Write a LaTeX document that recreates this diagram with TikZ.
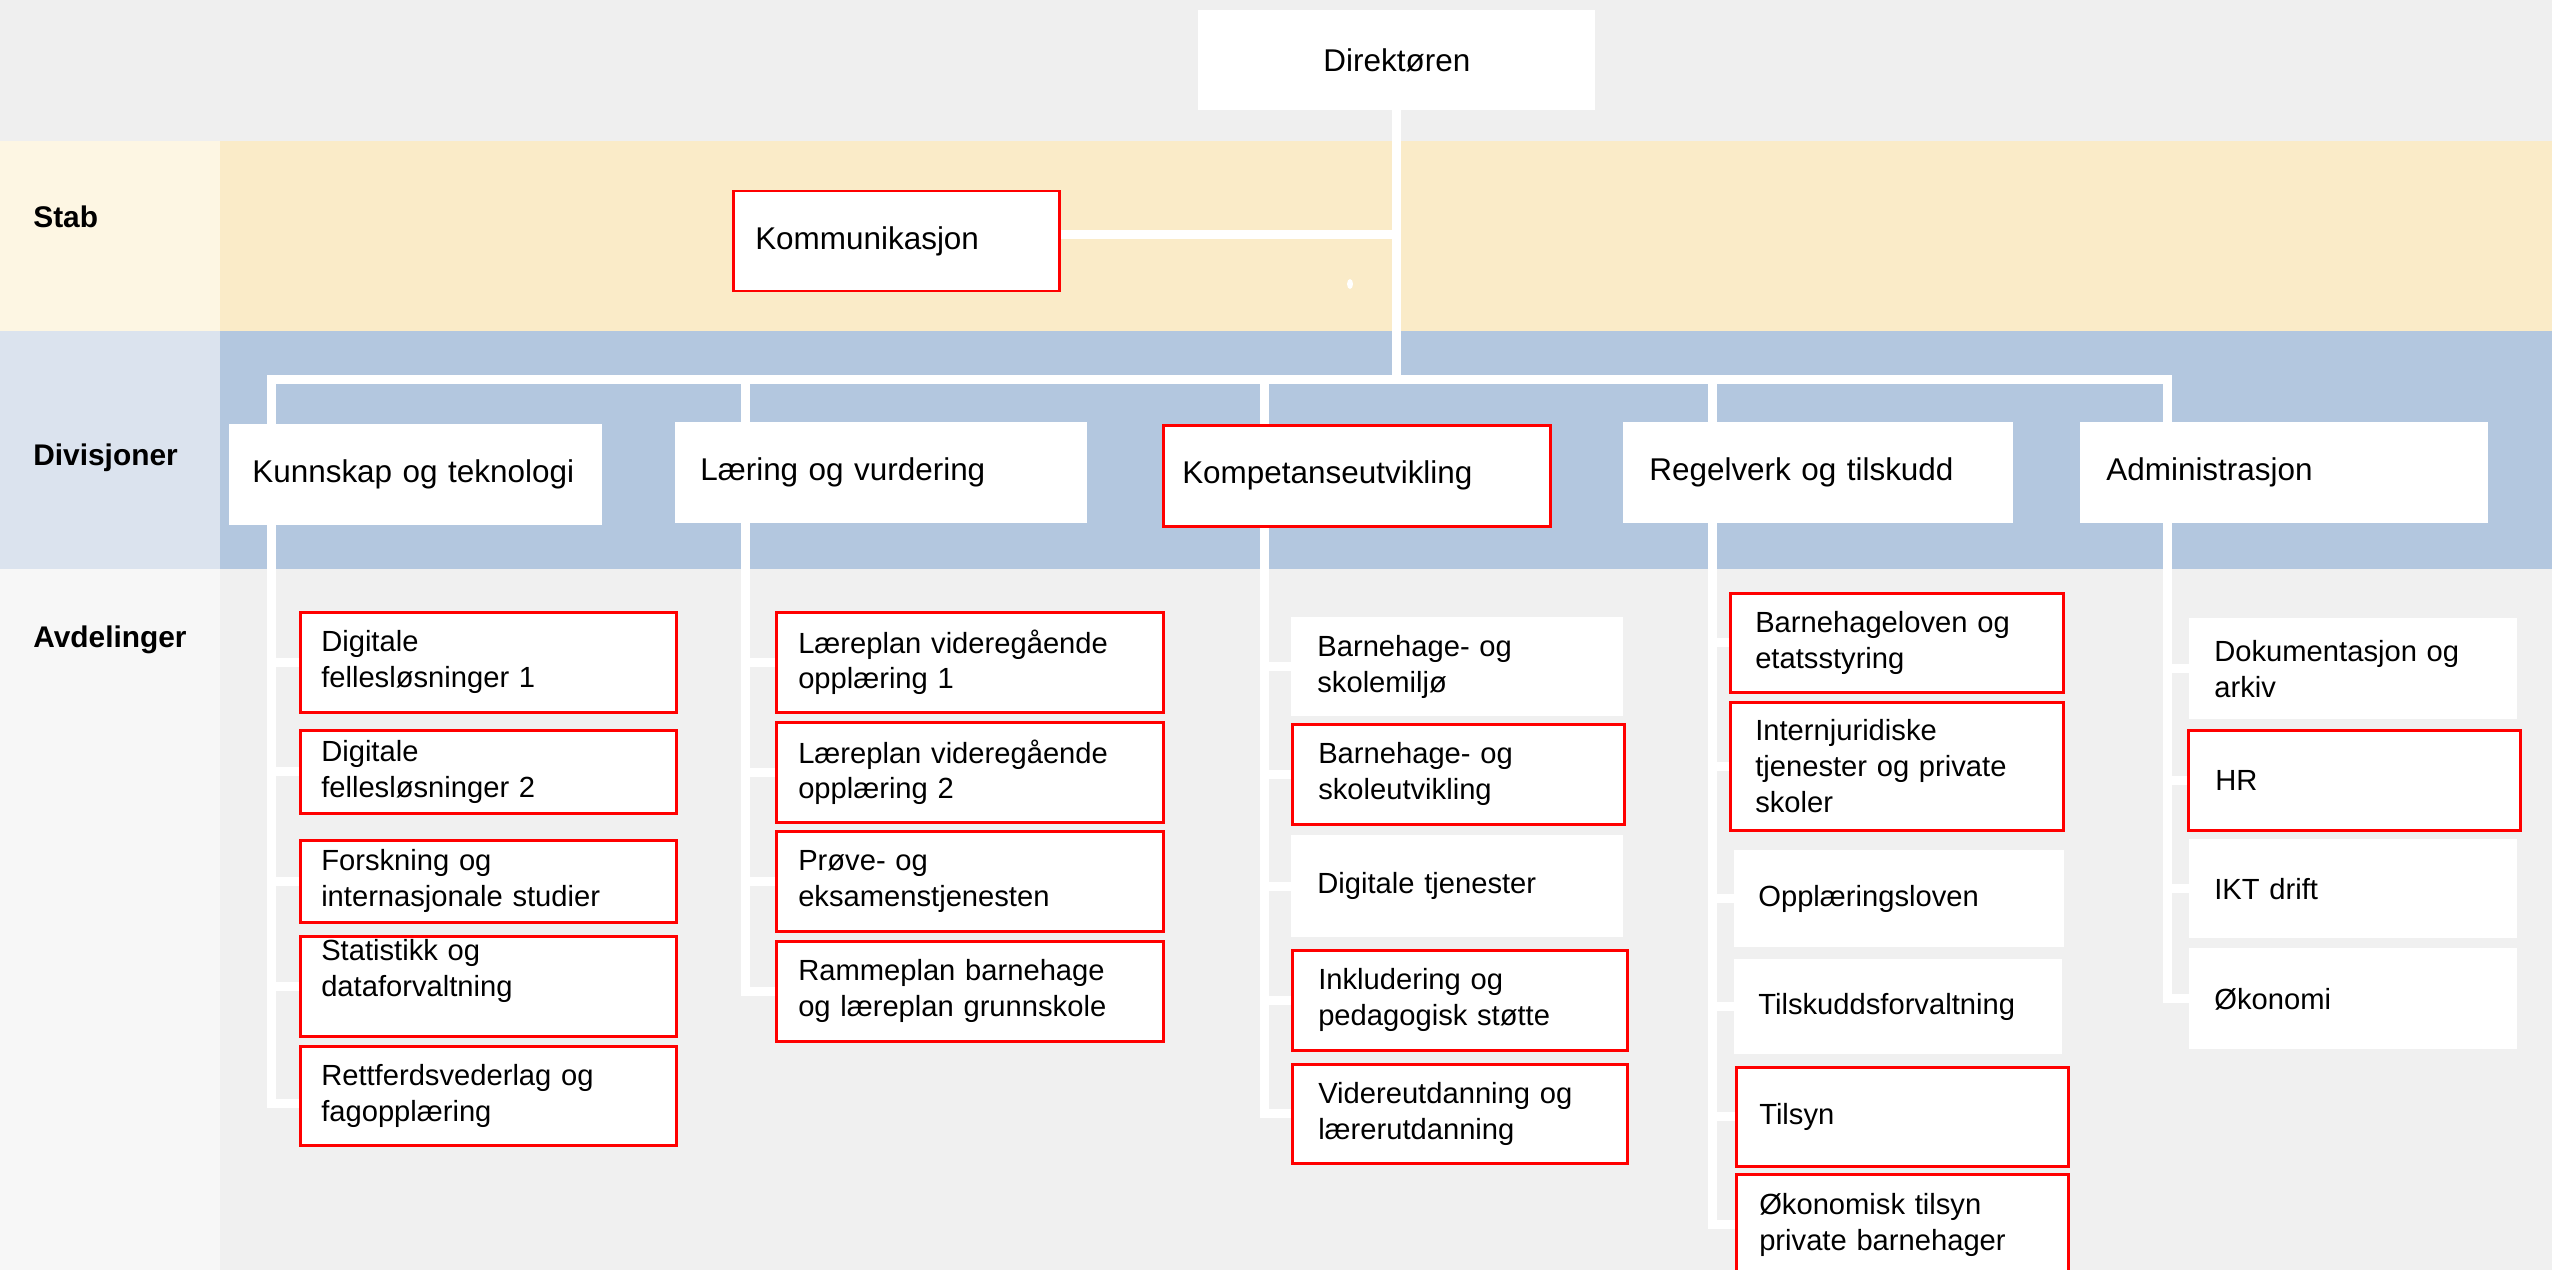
\documentclass[tikz,border=0pt]{standalone}
\usepackage{fontspec}
\setmainfont{Liberation Sans}
\newlength\pu
\setlength\pu{0.02cm}
\definecolor{cTop}{HTML}{EFEFEF}
\definecolor{cStabL}{HTML}{FDF6E3}
\definecolor{cStab}{HTML}{FAEBC8}
\definecolor{cDivL}{HTML}{DBE3EE}
\definecolor{cDiv}{HTML}{B3C7DF}
\definecolor{cAvdL}{HTML}{F7F7F7}
\definecolor{cAvd}{HTML}{F0F0F0}
\definecolor{cRed}{HTML}{FF0000}
\pgfdeclarelayer{bg}
\pgfdeclarelayer{wires}
\pgfsetlayers{bg,wires,main}
\tikzset{
  orgbox/.style={rectangle, fill=white, inner ysep=0pt, align=left, anchor=north west,
    font=\fontsize{16.6}{20.4}\selectfont},
  redbox/.style={draw=cRed, line width=2.5\pu},
  divfont/.style={font=\fontsize{17.9}{21.5}\selectfont},
  wire/.style={draw=white, line width=9\pu, line cap=rect},
  lab/.style={font=\fontsize{17}{20}\selectfont\bfseries, anchor=base west, inner sep=0pt},
}
\newcommand\obox[8][]{%
  \pgfmathsetmacro\obtw{#5-2*#7}%
  \node[orgbox, #1, minimum width=#5\pu, minimum height=#6\pu, inner xsep=#7\pu,
        text width=\obtw\pu] (#2) at (#3,#4) {#8};}
\begin{document}
\begin{tikzpicture}[x=0.02cm, y=-0.02cm]
\useasboundingbox (0,0) rectangle (2552,1270);
% bands
\begin{pgfonlayer}{bg}
  \fill[cTop] (0,0) rectangle (2552,141);
  \fill[cStabL] (0,141) rectangle (220,331);
  \fill[cStab] (220,141) rectangle (2552,331);
  \fill[cDivL] (0,331) rectangle (220,569);
  \fill[cDiv] (220,331) rectangle (2552,569);
  \fill[cAvdL] (0,569) rectangle (220,1270);
  \fill[cAvd] (220,569) rectangle (2552,1270);
\end{pgfonlayer}
% row labels
\node[lab] (labStab) at (33,228) {Stab};
\node[lab] (labDiv) at (33,465) {Divisjoner};
\node[lab] (labAvd) at (33,647) {Avdelinger};
% top
\obox[divfont, align=center]{dir}{1198}{10}{397}{100}{20}{Direktøren}
\obox[divfont, redbox]{kom}{732}{190}{326}{100}{22}{Kommunikasjon}
\fill[white] (1350,284) ellipse (3 and 5);
% divisions
\obox[divfont]{kunn}{229}{424}{373}{101}{23}{Kunnskap og teknologi}
\obox[divfont]{laer}{675}{422}{412}{101}{25}{Læring og vurdering}
\obox[divfont, redbox]{komp}{1162}{424}{387}{101}{19}{Kompetanseutvikling}
\obox[divfont]{regel}{1623}{422}{390}{101}{26}{Regelverk og tilskudd}
\obox[divfont]{adm}{2080}{422}{408}{101}{26}{Administrasjon}
% Kunnskap og teknologi
\obox[redbox]{k1}{299}{611}{376}{100}{21}{Digitale\\fellesløsninger 1}
\obox[redbox]{k2}{299}{729}{376}{83}{21}{Digitale\\fellesløsninger 2}
\obox[redbox]{k3}{299}{839}{376}{82}{21}{Forskning og\\internasjonale studier}
\obox[redbox]{k4}{299}{935}{376}{100}{21}{Statistikk og\\dataforvaltning\\\mbox{}}
\obox[redbox]{k5}{299}{1045}{376}{99}{21}{Rettferdsvederlag og\\fagopplæring}
% Læring og vurdering
\obox[redbox]{l1}{775}{611}{387}{100}{22}{Læreplan videregående\\opplæring 1}
\obox[redbox]{l2}{775}{721}{387}{100}{22}{Læreplan videregående\\opplæring 2}
\obox[redbox]{l3}{775}{830}{387}{100}{22}{Prøve- og\\eksamenstjenesten}
\obox[redbox]{l4}{775}{940}{387}{100}{22}{Rammeplan barnehage\\og læreplan grunnskole}
% Kompetanseutvikling
\obox{c1}{1291}{617}{332}{99}{26}{Barnehage- og\\skolemiljø}
\obox[redbox]{c2}{1291}{723}{332}{100}{26}{Barnehage- og\\skoleutvikling}
\obox{c3}{1291}{835}{332}{102}{26}{Digitale tjenester}
\obox[redbox]{c4}{1291}{949}{335}{100}{26}{Inkludering og\\pedagogisk støtte}
\obox[redbox]{c5}{1291}{1063}{335}{99}{26}{Videreutdanning og\\lærerutdanning}
% Regelverk og tilskudd
\obox[redbox]{r1}{1729}{592}{333}{99}{25}{Barnehageloven og\\etatsstyring}
\obox[redbox]{r2}{1729}{701}{333}{128}{25}{Internjuridiske\\tjenester og private\\skoler}
\obox{r3}{1734}{850}{330}{97}{24}{Opplæringsloven}
\obox{r4}{1734}{959}{328}{95}{24}{Tilskuddsforvaltning}
\obox[redbox]{r5}{1735}{1066}{332}{99}{23}{Tilsyn}
\obox[redbox]{r6}{1735}{1173}{332}{101}{23}{Økonomisk tilsyn\\private barnehager}
% Administrasjon
\obox{a1}{2189}{618}{328}{101}{25}{Dokumentasjon og\\arkiv}
\obox[redbox]{a2}{2187}{729}{332}{100}{27}{HR}
\obox{a3}{2189}{839}{328}{99}{25}{IKT drift}
\obox{a4}{2189}{948}{328}{101}{25}{Økonomi}
% connectors
\begin{pgfonlayer}{wires}
  \coordinate (bK) at (271,380);
  \coordinate (bL) at (745,380);
  \coordinate (bC) at (1264,380);
  \coordinate (bR) at (1712,380);
  \coordinate (bA) at (2167,380);
  \draw[wire] (dir.south) -- (dir.south |- bK);
  \draw[wire] ([yshift=7\pu]kom.east) -- ([yshift=7\pu]kom.east -| dir.south);
  \draw[wire, line join=miter] (bK |- kunn.north) -- (bK) -- (bA) -- (bA |- adm.north);
  \draw[wire] (bL) -- (bL |- laer.north);
  \draw[wire] (bC) -- (bC |- komp.north);
  \draw[wire] (bR) -- (bR |- regel.north);
  \draw[wire] (bK |- kunn.south) -- ([yshift=-8\pu]bK |- k5.west);
  \draw[wire] (bL |- laer.south) -- (bL |- l4.west);
  \draw[wire] (bC |- komp.south) -- (bC |- c5.west);
  \draw[wire] (bR |- regel.south) -- (bR |- r6.west);
  \draw[wire] (bA |- adm.south) -- (bA |- a4.west);
  \foreach \n in {k1,k2,k3,k4} \draw[wire] (bK |- \n.west) -- (\n.west);
  \draw[wire] ([yshift=-8\pu]bK |- k5.west) -- ([yshift=-8\pu]k5.west);
  \foreach \n in {l1,l2,l3,l4} \draw[wire] (bL |- \n.west) -- (\n.west);
  \foreach \n in {c1,c2,c3,c4,c5} \draw[wire] (bC |- \n.west) -- (\n.west);
  \foreach \n in {r1,r2,r3,r4,r5,r6} \draw[wire] (bR |- \n.west) -- (\n.west);
  \foreach \n in {a1,a2,a3,a4} \draw[wire] (bA |- \n.west) -- (\n.west);
\end{pgfonlayer}
\end{tikzpicture}
\end{document}
